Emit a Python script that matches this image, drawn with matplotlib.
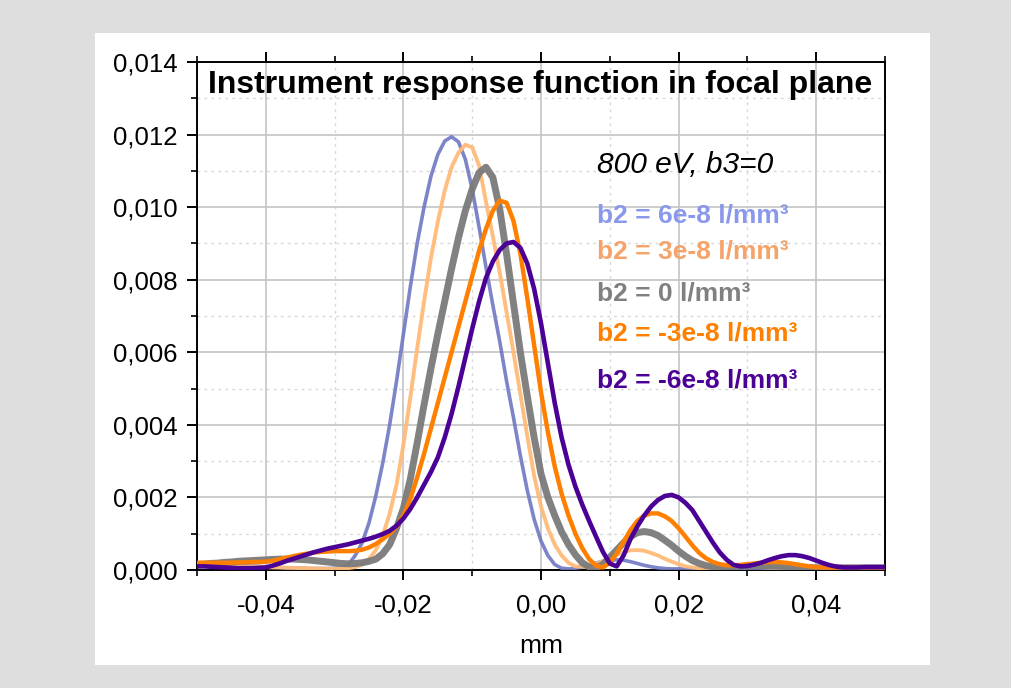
import matplotlib
matplotlib.use('Agg')
import matplotlib.pyplot as plt
import numpy as np
from matplotlib.patches import Rectangle
from matplotlib.ticker import FuncFormatter, MultipleLocator

plt.rcParams['font.family'] = ['Liberation Sans', 'DejaVu Sans']

# sampling positions along the focal plane (mm), one every 0.001 mm
x_mm = np.linspace(-0.05, 0.05, 101)

# response values, in units of 1e-3
b2_p6 = [0.20, 0.20, 0.19, 0.18, 0.16, 0.15, 0.13, 0.12, 0.11, 0.10,
         0.09, 0.08, 0.07, 0.06, 0.05, 0.05, 0.04, 0.04, 0.04, 0.04,
         0.05, 0.07, 0.15, 0.40, 0.75, 1.30, 2.05, 2.95, 4.00, 5.20,
         6.50, 7.80, 9.00, 10.00, 10.85, 11.45, 11.82, 11.94, 11.80, 11.32,
         10.50, 9.45, 8.35, 7.30, 6.30, 5.20, 4.20, 3.15, 2.20, 1.40,
         0.80, 0.40, 0.15, 0.05, 0.03, 0.05, 0.08, 0.13, 0.19, 0.24,
         0.27, 0.28, 0.27, 0.23, 0.18, 0.13, 0.09, 0.06, 0.04, 0.03,
         0.03, 0.03, 0.03, 0.03, 0.03, 0.03, 0.03, 0.03, 0.03, 0.03,
         0.03, 0.03, 0.03, 0.03, 0.03, 0.03, 0.03, 0.03, 0.03, 0.03,
         0.03, 0.03, 0.03, 0.03, 0.03, 0.03, 0.03, 0.03, 0.03, 0.03,
         0.03]

b2_p3 = [0.12, 0.12, 0.12, 0.11, 0.11, 0.10, 0.10, 0.09, 0.09, 0.08,
         0.08, 0.07, 0.07, 0.06, 0.06, 0.05, 0.05, 0.04, 0.04, 0.03,
         0.03, 0.04, 0.05, 0.08, 0.15, 0.30, 0.55, 0.95, 1.55, 2.35,
         3.45, 4.75, 6.10, 7.40, 8.60, 9.60, 10.45, 11.10, 11.50, 11.72,
         11.65, 11.15, 10.15, 9.20, 8.20, 7.10, 6.00, 4.85, 3.70, 2.60,
         1.75, 1.15, 0.70, 0.40, 0.20, 0.10, 0.09, 0.12, 0.16, 0.24,
         0.33, 0.42, 0.49, 0.54, 0.55, 0.53, 0.47, 0.40, 0.31, 0.23,
         0.16, 0.10, 0.07, 0.05, 0.05, 0.05, 0.06, 0.07, 0.08, 0.09,
         0.09, 0.09, 0.08, 0.07, 0.06, 0.05, 0.05, 0.05, 0.05, 0.05,
         0.05, 0.05, 0.05, 0.05, 0.05, 0.05, 0.05, 0.05, 0.05, 0.05,
         0.05]

b2_0 = [0.15, 0.16, 0.18, 0.19, 0.21, 0.22, 0.24, 0.25, 0.26, 0.27,
        0.28, 0.29, 0.30, 0.30, 0.30, 0.29, 0.28, 0.26, 0.24, 0.22,
        0.20, 0.18, 0.17, 0.18, 0.20, 0.24, 0.30, 0.45, 0.70, 1.15,
        1.70, 2.50, 3.50, 4.55, 5.55, 6.50, 7.40, 8.30, 9.15, 9.90,
        10.50, 10.95, 11.10, 10.82, 9.95, 8.70, 7.35, 6.00, 4.80, 3.65,
        2.65, 2.00, 1.50, 1.05, 0.70, 0.42, 0.20, 0.08, 0.06, 0.15,
        0.35, 0.55, 0.75, 0.92, 1.03, 1.06, 1.03, 0.95, 0.82, 0.68,
        0.52, 0.38, 0.26, 0.18, 0.12, 0.09, 0.08, 0.08, 0.09, 0.10,
        0.11, 0.12, 0.12, 0.12, 0.11, 0.10, 0.09, 0.08, 0.07, 0.06,
        0.06, 0.06, 0.06, 0.06, 0.06, 0.06, 0.06, 0.06, 0.06, 0.06,
        0.06]

b2_m3 = [0.20, 0.20, 0.20, 0.20, 0.20, 0.20, 0.21, 0.21, 0.22, 0.22,
         0.23, 0.25, 0.30, 0.34, 0.38, 0.42, 0.45, 0.48, 0.50, 0.51,
         0.52, 0.52, 0.52, 0.53, 0.56, 0.62, 0.72, 0.85, 1.00, 1.20,
         1.50, 1.95, 2.55, 3.20, 3.90, 4.60, 5.30, 6.00, 6.70, 7.40,
         8.10, 8.80, 9.40, 9.90, 10.18, 10.12, 9.62, 8.72, 7.50, 6.20,
         4.90, 3.80, 2.85, 2.10, 1.50, 1.00, 0.60, 0.30, 0.12, 0.07,
         0.20, 0.45, 0.78, 1.10, 1.35, 1.50, 1.56, 1.56, 1.48, 1.35,
         1.15, 0.92, 0.68, 0.47, 0.32, 0.22, 0.16, 0.13, 0.13, 0.14,
         0.16, 0.18, 0.20, 0.22, 0.22, 0.21, 0.19, 0.16, 0.13, 0.10,
         0.08, 0.07, 0.07, 0.07, 0.07, 0.07, 0.07, 0.07, 0.07, 0.07,
         0.07]

b2_m6 = [0.10, 0.10, 0.09, 0.08, 0.07, 0.06, 0.05, 0.05, 0.05, 0.06,
         0.07, 0.12, 0.18, 0.25, 0.31, 0.37, 0.43, 0.49, 0.54, 0.59,
         0.63, 0.67, 0.71, 0.76, 0.81, 0.86, 0.92, 0.99, 1.08, 1.22,
         1.42, 1.68, 2.00, 2.35, 2.70, 3.10, 3.65, 4.30, 5.05, 5.85,
         6.65, 7.40, 8.05, 8.50, 8.82, 9.00, 9.04, 8.88, 8.45, 7.75,
         6.80, 5.70, 4.60, 3.65, 2.90, 2.30, 1.80, 1.35, 0.92, 0.50,
         0.18, 0.10, 0.40, 0.85, 1.20, 1.50, 1.75, 1.93, 2.04, 2.07,
         2.00, 1.85, 1.65, 1.35, 1.05, 0.75, 0.48, 0.28, 0.14, 0.10,
         0.11, 0.15, 0.20, 0.27, 0.33, 0.38, 0.41, 0.41, 0.38, 0.33,
         0.26, 0.19, 0.13, 0.09, 0.07, 0.07, 0.07, 0.08, 0.08, 0.08,
         0.08]

labels = ['b2 = 6e-8 l/mm\u00b3', 'b2 = 3e-8 l/mm\u00b3', 'b2 = 0 l/mm\u00b3',
          'b2 = -3e-8 l/mm\u00b3', 'b2 = -6e-8 l/mm\u00b3']
x_ticks = [-0.04, -0.02, 0.00, 0.02, 0.04]
y_ticks = [0.000, 0.002, 0.004, 0.006, 0.008, 0.010, 0.012, 0.014]

series = [b2_p6, b2_p3, b2_0, b2_m3, b2_m6]
line_colors = ['#6f78c2', '#ffbb78', '#7a7a7a', '#ff8000', '#4b0096']
line_alpha = [0.9, 0.95, 0.95, 1.0, 1.0]
line_widths = [2.6, 2.8, 5.0, 3.2, 3.3]
text_colors = ['#8a98ec', '#f4a46a', '#808080', '#ff8000', '#4b0096']

fig = plt.figure(figsize=(10.12, 6.88), dpi=100)
fig.patch.set_facecolor('#dedede')
fig.patches.append(Rectangle((95 / 1012, 1 - 665 / 688), 835 / 1012, 632 / 688,
                             transform=fig.transFigure, facecolor='white',
                             edgecolor='none', zorder=-10))

ax = fig.add_axes([197 / 1012, 1 - 570 / 688, 688 / 1012, 508 / 688])
ax.set_zorder(1)

for ys, c, a, lw in zip(series, line_colors, line_alpha, line_widths):
    ax.plot(x_mm, np.array(ys) * 1e-3, color=c, alpha=a, lw=lw,
            solid_joinstyle='round', solid_capstyle='round', zorder=3)

ax.set_xlim(-0.05, 0.05)
ax.set_ylim(0, 0.014)
ax.set_xticks(x_ticks)
ax.set_yticks(y_ticks)
ax.xaxis.set_minor_locator(MultipleLocator(0.01))
ax.yaxis.set_minor_locator(MultipleLocator(0.001))
ax.xaxis.set_major_formatter(FuncFormatter(lambda v, p: f'{v:.2f}'.replace('.', ',')))
ax.yaxis.set_major_formatter(FuncFormatter(lambda v, p: f'{v:.3f}'.replace('.', ',')))

ax.grid(which='major', color='#c4c4c4', lw=1.2, zorder=1)
ax.grid(which='minor', color='#d8d8d8', lw=1.0, ls=(0, (2, 3)), zorder=1)
ax.set_axisbelow(True)

for s in ax.spines.values():
    s.set_linewidth(1.4)
ax.tick_params(which='major', direction='out', length=7, width=1.4,
               labelsize=18.5, top=True, right=False)
ax.tick_params(which='minor', direction='out', length=4, width=1.2,
               top=True, right=False)
ax.tick_params(axis='x', which='major', pad=10)
ax.tick_params(axis='y', which='major', pad=7)
ax.set_xlabel('mm', fontsize=19, labelpad=12)

ax.text(0.4985, 0.955, 'Instrument response function in focal plane',
        transform=ax.transAxes, ha='center', va='center',
        fontsize=23, fontweight='bold', zorder=5)
ax.text(0.581, 0.797, '800 eV, b3=0', transform=ax.transAxes,
        ha='left', va='center', fontsize=21.5, style='italic', zorder=5)
for lab, c, yy in zip(labels, text_colors, [0.697, 0.626, 0.545, 0.465, 0.374]):
    ax.text(0.581, yy, lab, transform=ax.transAxes, ha='left', va='center',
            fontsize=19, fontweight='bold', color=c, zorder=5)

fig.savefig('out.png', dpi=100, facecolor=fig.get_facecolor())
plt.close(fig)
